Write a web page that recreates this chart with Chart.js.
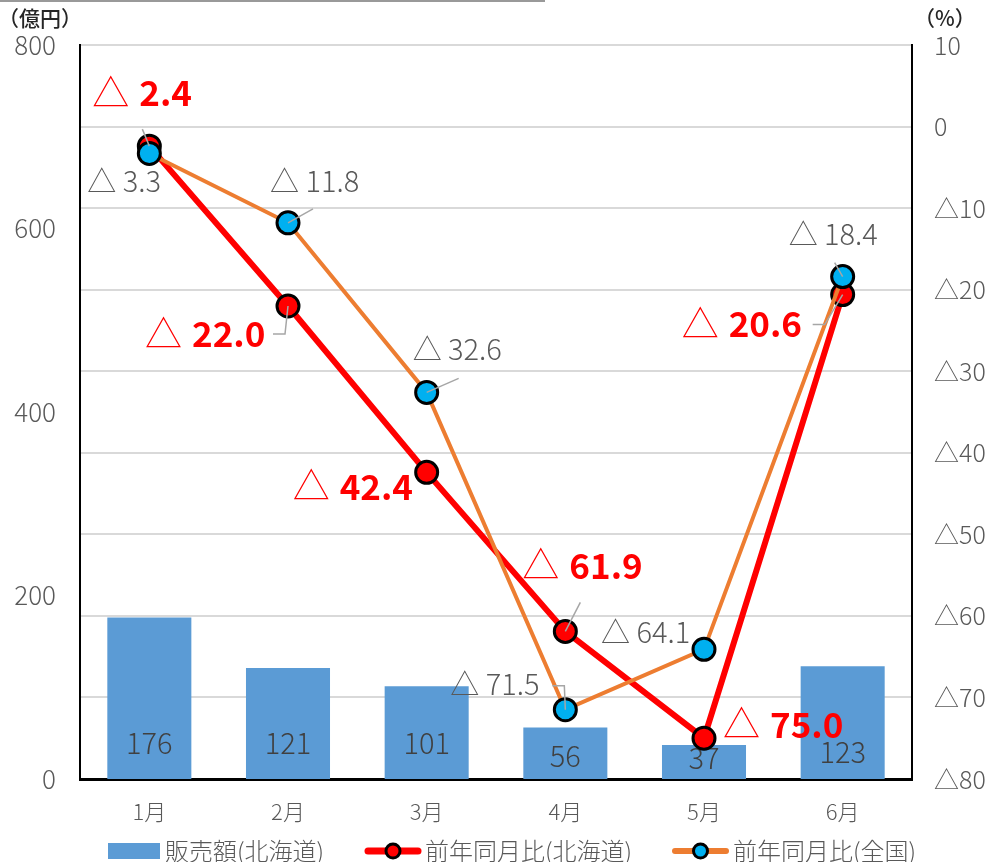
<!DOCTYPE html>
<html>
<head>
<meta charset="utf-8">
<script src="https://cdn.jsdelivr.net/npm/chart.js@4.4.1/dist/chart.umd.min.js"></script>
<style>
  body { margin: 0; background: #fff; }
  #wrap { width: 990px; height: 862px; }
</style>
</head>
<body>
<div id="wrap"><canvas id="graficHokkaido"></canvas></div>
<script>
// 販売額と前年同月比
const meses = ['1月', '2月', '3月', '4月', '5月', '6月'];
const ventasHokkaido = [176, 121, 101, 56, 37, 123];        // 億円
const tasaHokkaido = [-2.4, -22.0, -42.4, -61.9, -75.0, -20.6]; // %
const tasaNacional = [-3.3, -11.8, -32.6, -71.5, -64.1, -18.4]; // %

// ejes: [min, max, paso]
const ejeVentas = [0, 800, 200];
const ejePct = [-80, 10, 10];

const FUENTE = "'Noto Sans CJK JP', 'Noto Sans', sans-serif";
const GRIS = '#595959';

const triangulo = v => (v < 0 ? '△' + Math.abs(v) : String(v));

// desplazamientos de las etiquetas respecto al punto (x izq, y centro)
const posRojo = [[-57, -53], [-143, 28], [-134, 14], [-43, -66], [19, -14], [-161, 29]];
const posGris = [[-62, 28], [-18, -42], [-14, -43], [-115, -26], [-103, -17], [-54, -43]];
// lineas guia
const guiaRojo = [[[0, 0], [-7, -17]], [[0, 0], [-3, 28], [-15, 28]], null, [[0, 0], [15, -29]], null, [[0, 0], [-18, 30], [-30, 30]]];
const guiaGris = [null, [[0, 0], [25, -14]], [[0, 0], [32, -14]], [[0, 0], [-1, -24], [-13, -24]], null, [[0, 0], [-8, -14]]];
// altura de las etiquetas de barra sobre la base
const baseBarra = [36, 36, 36, 23, 21, 27];

const etiquetas = {
    id: 'etiquetas',
    afterDatasetDraw(chart, args) {
        if (args.index !== 0) return;
        const ctx = chart.ctx;
        const bottom = chart.scales.y.bottom;
        ctx.save();
        ctx.font = '300 29px ' + FUENTE;
        ctx.fillStyle = '#404040';
        ctx.textAlign = 'center';
        ctx.textBaseline = 'middle';
        args.meta.data.forEach((bar, i) => {
            ctx.fillText(String(ventasHokkaido[i]), bar.x, bottom - baseBarra[i]);
        });
        ctx.restore();
    },
    afterDatasetsDraw(chart) {
        const ctx = chart.ctx;
        const guias = (meta, lista) => {
            ctx.save();
            ctx.strokeStyle = '#a6a6a6';
            ctx.lineWidth = 1.5;
            meta.data.forEach((p, i) => {
                const g = lista[i];
                if (!g) return;
                ctx.beginPath();
                g.forEach(([dx, dy], k) => k ? ctx.lineTo(p.x + dx, p.y + dy) : ctx.moveTo(p.x + dx, p.y + dy));
                ctx.stroke();
            });
            ctx.restore();
        };
        const mRojo = chart.getDatasetMeta(1);
        const mGris = chart.getDatasetMeta(2);
        guias(mRojo, guiaRojo);
        guias(mGris, guiaGris);

        ctx.save();
        ctx.textBaseline = 'middle';
        ctx.textAlign = 'left';
        mRojo.data.forEach((p, i) => {
            const x = p.x + posRojo[i][0], y = p.y + posRojo[i][1];
            ctx.fillStyle = '#ff0000';
            ctx.font = '300 37px ' + FUENTE;
            ctx.fillText('△', x, y);
            const w = ctx.measureText('△').width;
            ctx.font = 'bold 35px ' + FUENTE;
            ctx.fillText(Math.abs(tasaHokkaido[i]).toFixed(1), x + w + 10, y);
        });
        mGris.data.forEach((p, i) => {
            const x = p.x + posGris[i][0], y = p.y + posGris[i][1];
            ctx.fillStyle = GRIS;
            ctx.font = '300 29px ' + FUENTE;
            ctx.fillText('△ ' + Math.abs(tasaNacional[i]).toFixed(1), x, y);
        });
        ctx.restore();
    },
    afterDraw(chart) {
        const ctx = chart.ctx;
        ctx.save();
        // linea superior
        ctx.strokeStyle = '#999';
        ctx.lineWidth = 2;
        ctx.beginPath();
        ctx.moveTo(0, 1);
        ctx.lineTo(545, 1);
        ctx.stroke();

        // unidades
        ctx.fillStyle = '#262626';
        ctx.font = '500 21px ' + FUENTE;
        ctx.textBaseline = 'middle';
        ctx.textAlign = 'left';
        ctx.fillText('（億円）', -2, 18);
        ctx.fillText('（%）', 914, 18);

        // leyenda
        const y = 851;
        ctx.font = '300 24px ' + FUENTE;
        ctx.fillStyle = '#5b9bd5';
        ctx.fillRect(108, y - 8, 52, 16);
        ctx.fillStyle = GRIS;
        ctx.fillText('販売額(北海道)', 165, y);

        const linea = (x0, x1, color, ancho, relleno, tx, texto) => {
            ctx.strokeStyle = color;
            ctx.lineWidth = ancho;
            ctx.lineCap = 'round';
            ctx.beginPath();
            ctx.moveTo(x0, y);
            ctx.lineTo(x1, y);
            ctx.stroke();
            ctx.beginPath();
            ctx.arc((x0 + x1) / 2, y, 7, 0, Math.PI * 2);
            ctx.fillStyle = relleno;
            ctx.fill();
            ctx.lineWidth = 3;
            ctx.strokeStyle = '#000';
            ctx.stroke();
            ctx.fillStyle = GRIS;
            ctx.fillText(texto, tx, y);
        };
        linea(368, 418, '#ff0000', 7, '#ff0000', 425, '前年同月比(北海道)');
        linea(675, 726, '#ed7d31', 6, '#00b0f0', 733, '前年同月比(全国)');
        ctx.restore();
    }
};

const ctx = document.getElementById('graficHokkaido').getContext('2d');
new Chart(ctx, {
    data: {
        labels: meses,
        datasets: [
            {
                type: 'bar',
                label: '販売額(北海道)',
                data: ventasHokkaido,
                yAxisID: 'y',
                backgroundColor: '#5b9bd5',
                categoryPercentage: 1,
                barPercentage: 0.606,
                order: 3
            },
            {
                type: 'line',
                label: '前年同月比(北海道)',
                data: tasaHokkaido,
                yAxisID: 'y1',
                borderColor: '#ff0000',
                borderWidth: 6,
                pointRadius: 11,
                pointBorderWidth: 3,
                pointBackgroundColor: '#ff0000',
                pointBorderColor: '#000',
                tension: 0,
                order: 2
            },
            {
                type: 'line',
                label: '前年同月比(全国)',
                data: tasaNacional,
                yAxisID: 'y1',
                borderColor: '#ed7d31',
                borderWidth: 4,
                pointRadius: 11,
                pointBorderWidth: 3,
                pointBackgroundColor: '#00b0f0',
                pointBorderColor: '#000',
                tension: 0,
                order: 1
            }
        ]
    },
    options: {
        responsive: true,
        maintainAspectRatio: false,
        animation: false,
        layout: { padding: { top: 45, bottom: 23, left: 0, right: 0 } },
        plugins: {
            legend: { display: false },
            tooltip: { enabled: false }
        },
        scales: {
            x: {
                offset: true,
                grid: { display: false, drawTicks: false },
                border: { color: '#000', width: 3 },
                ticks: { color: GRIS, font: { family: FUENTE, size: 22, weight: 300 }, padding: 19 },
                afterFit: s => { s.height = 60; }
            },
            y: {
                position: 'left',
                min: ejeVentas[0],
                max: ejeVentas[1],
                grid: { display: false, drawTicks: false },
                border: { color: '#000', width: 2 },
                ticks: { stepSize: ejeVentas[2], color: GRIS, font: { family: FUENTE, size: 26, weight: 300 }, padding: 24 },
                afterFit: s => { s.width = 80; }
            },
            y1: {
                position: 'right',
                min: ejePct[0],
                max: ejePct[1],
                grid: { color: '#d9d9d9', lineWidth: 2, drawTicks: false },
                border: { color: '#000', width: 2 },
                ticks: {
                    stepSize: ejePct[2],
                    color: GRIS,
                    font: { family: FUENTE, size: 25, weight: 300 },
                    padding: 22,
                    callback: v => triangulo(v)
                },
                afterFit: s => { s.width = 78; }
            }
        }
    },
    plugins: [etiquetas]
});
</script>
</body>
</html>
